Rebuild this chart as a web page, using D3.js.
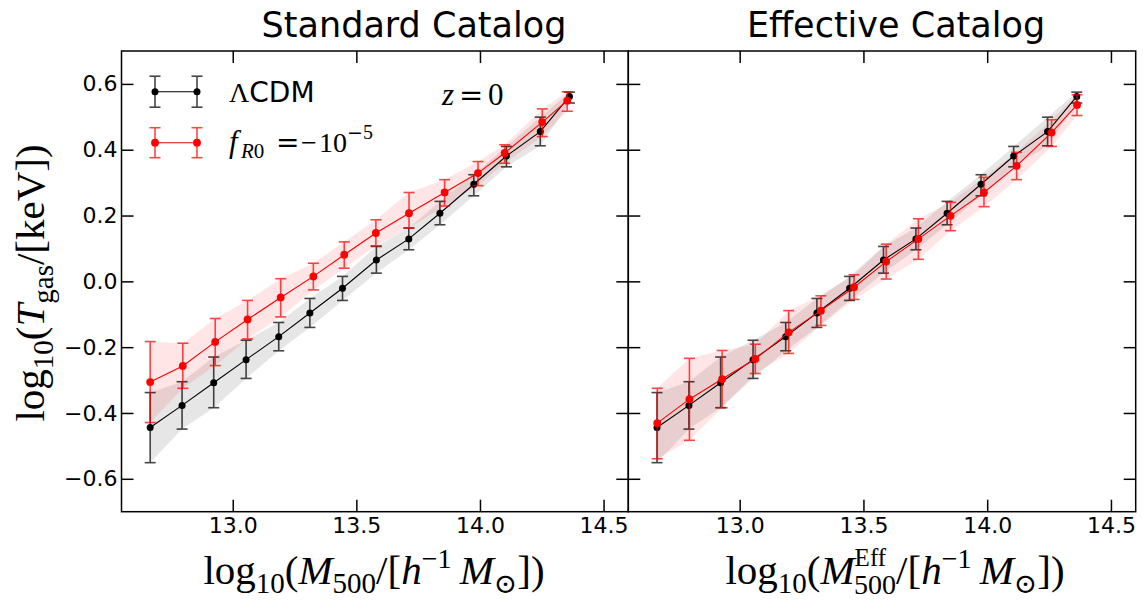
<!DOCTYPE html>
<html lang="en">
<head>
  <meta charset="UTF-8">
  <title>Tgas - M500 relation</title>
  <script src="https://d3js.org/d3.v7.min.js"></script>
  <style>
    body { margin: 0; background: #fff; }
    svg { display: block; }
    .tick text { font-family: "DejaVu Sans", sans-serif; font-size: 22px; fill: #000; }
    .math { font-family: "Liberation Serif", "DejaVu Serif", serif; }
    .op { font-family: "DejaVu Serif", serif; }
  </style>
</head>
<body>
  <div id="chart"></div>

  <script>
  // ΛCDM (same in both panels)
  const lcdmMass = [12.666, 12.795, 12.923, 13.054, 13.186, 13.312, 13.444, 13.581, 13.712, 13.838, 13.975, 14.107, 14.244, 14.362];
  const lcdmT    = [-0.444, -0.377, -0.308, -0.238, -0.168, -0.096, -0.021, 0.065, 0.129, 0.207, 0.295, 0.381, 0.455, 0.562];
  const lcdmLo   = [-0.551, -0.449, -0.384, -0.295, -0.211, -0.140, -0.058, 0.025, 0.096, 0.172, 0.260, 0.348, 0.412, 0.542];
  const lcdmHi   = [-0.338, -0.305, -0.230, -0.179, -0.125, -0.052, 0.015, 0.106, 0.162, 0.243, 0.324, 0.410, 0.499, 0.575];

  // f(R) standard catalog
  const fStdMass = [12.666, 12.798, 12.929, 13.060, 13.194, 13.326, 13.451, 13.579, 13.713, 13.857, 13.992, 14.100, 14.252, 14.353];
  const fStdT    = [-0.306, -0.257, -0.184, -0.116, -0.049, 0.015, 0.081, 0.147, 0.207, 0.270, 0.329, 0.390, 0.484, 0.549];
  const fStdLo   = [-0.429, -0.325, -0.256, -0.175, -0.108, -0.026, 0.040, 0.108, 0.162, 0.229, 0.291, 0.359, 0.440, 0.517];
  const fStdHi   = [-0.183, -0.188, -0.113, -0.058, 0.008, 0.055, 0.120, 0.187, 0.270, 0.309, 0.364, 0.415, 0.524, 0.576];

  // f(R) effective catalog
  const fEffMass = [12.667, 12.797, 12.929, 13.063, 13.198, 13.328, 13.462, 13.592, 13.722, 13.852, 13.987, 14.119, 14.260, 14.363];
  const fEffT    = [-0.431, -0.358, -0.297, -0.236, -0.155, -0.089, -0.018, 0.060, 0.129, 0.199, 0.270, 0.351, 0.452, 0.536];
  const fEffLo   = [-0.539, -0.483, -0.384, -0.280, -0.219, -0.134, -0.055, 0.007, 0.067, 0.154, 0.227, 0.309, 0.410, 0.504];
  const fEffHi   = [-0.325, -0.234, -0.210, -0.191, -0.089, -0.044, 0.020, 0.113, 0.190, 0.240, 0.316, 0.392, 0.491, 0.567];

  const xTicks = [13.0, 13.5, 14.0, 14.5];
  const yTicks = [-0.6, -0.4, -0.2, 0.0, 0.2, 0.4, 0.6];
  const titles = ["Standard Catalog", "Effective Catalog"];

  const W = 1143, H = 601;
  const yTop = 51, yBottom = 511.7;
  const panels = [
    { x0: 121.5, x1: 628.3, fMass: fStdMass, fT: fStdT, fLo: fStdLo, fHi: fStdHi, title: titles[0], titleX: 414 },
    { x0: 628.3, x1: 1135.7, fMass: fEffMass, fT: fEffT, fLo: fEffLo, fHi: fEffHi, title: titles[1], titleX: 896 }
  ];

  const svg = d3.select("#chart").append("svg")
    .attr("width", W).attr("height", H);
  svg.append("rect").attr("width", W).attr("height", H).attr("fill", "#fff");

  const y = d3.scaleLinear().domain([-0.7, 0.7]).range([yBottom, yTop]);

  function zipSeries(mass, t, lo, hi) {
    return mass.map((m, i) => ({ m: m, t: t[i], lo: lo[i], hi: hi[i] }));
  }

  function drawSeries(g, x, data, color, bandColor, bandOpacity, r) {
    g.append("path")
      .datum(data)
      .attr("fill", bandColor)
      .attr("fill-opacity", bandOpacity)
      .attr("d", d3.area().x(d => x(d.m)).y0(d => y(d.lo)).y1(d => y(d.hi)));
    return function drawMarks() {
      g.append("path")
        .datum(data)
        .attr("fill", "none")
        .attr("stroke", color)
        .attr("stroke-width", 1.1)
        .attr("d", d3.line().x(d => x(d.m)).y(d => y(d.t)));
      const eb = g.append("g").attr("stroke", color).attr("stroke-width", 1.6).attr("opacity", 0.72);
      eb.selectAll(".v").data(data).enter().append("line")
        .attr("x1", d => x(d.m)).attr("x2", d => x(d.m))
        .attr("y1", d => y(d.lo)).attr("y2", d => y(d.hi));
      eb.selectAll(".cl").data(data).enter().append("line")
        .attr("x1", d => x(d.m) - 5.5).attr("x2", d => x(d.m) + 5.5)
        .attr("y1", d => y(d.lo)).attr("y2", d => y(d.lo));
      eb.selectAll(".ch").data(data).enter().append("line")
        .attr("x1", d => x(d.m) - 5.5).attr("x2", d => x(d.m) + 5.5)
        .attr("y1", d => y(d.hi)).attr("y2", d => y(d.hi));
      g.selectAll(null).data(data).enter().append("circle")
        .attr("cx", d => x(d.m)).attr("cy", d => y(d.t))
        .attr("r", r).attr("fill", color);
    };
  }

  panels.forEach((p, pi) => {
    const x = d3.scaleLinear().domain([12.55, 14.6]).range([p.x0, p.x1]);
    const g = svg.append("g");

    const lcdm = zipSeries(lcdmMass, lcdmT, lcdmLo, lcdmHi);
    const fr = zipSeries(p.fMass, p.fT, p.fLo, p.fHi);
    const marksK = drawSeries(g, x, lcdm, "#000", "#808080", 0.2, 3.5);
    const marksR = drawSeries(g, x, fr, "#ff0000", "#ff0000", 0.1, 3.9);
    marksK();
    marksR();

    // axes: ticks point inward on all four sides
    const fmt = d3.format(".1f");
    g.append("g").attr("transform", `translate(0,${yBottom})`)
      .call(d3.axisBottom(x).tickValues(xTicks).tickFormat(fmt).tickSizeInner(-12).tickSizeOuter(0).tickPadding(6));
    g.append("g").attr("transform", `translate(0,${yTop})`)
      .call(d3.axisTop(x).tickValues(xTicks).tickFormat("").tickSizeInner(-12).tickSizeOuter(0));
    g.append("g").attr("transform", `translate(${p.x0},0)`)
      .call(d3.axisLeft(y).tickValues(yTicks).tickFormat(pi === 0 ? fmt : "").tickSizeInner(-12).tickSizeOuter(0).tickPadding(4));
    g.append("g").attr("transform", `translate(${p.x1},0)`)
      .call(d3.axisRight(y).tickValues(yTicks).tickFormat("").tickSizeInner(-12).tickSizeOuter(0));
    g.selectAll(".domain").remove();
    g.selectAll(".tick line").attr("stroke", "#000").attr("stroke-width", 1.5);

    g.append("rect")
      .attr("x", p.x0).attr("y", yTop)
      .attr("width", p.x1 - p.x0).attr("height", yBottom - yTop)
      .attr("fill", "none").attr("stroke", "#000").attr("stroke-width", 1.5);

    svg.append("text")
      .attr("x", p.titleX).attr("y", 37)
      .attr("text-anchor", "middle")
      .attr("font-family", "DejaVu Sans, sans-serif")
      .attr("font-size", 35)
      .text(p.title);
  });

  // y axis label
  const yl = svg.append("text").attr("class", "math")
    .attr("transform", "translate(44,283) rotate(-90)")
    .attr("text-anchor", "middle").attr("font-size", 41);
  yl.append("tspan").text("log");
  yl.append("tspan").attr("font-size", 29).attr("dy", 9).text("10");
  yl.append("tspan").attr("dy", -9).text("(");
  yl.append("tspan").attr("font-style", "italic").text("T");
  yl.append("tspan").attr("font-size", 29).attr("dy", 9).text("gas");
  yl.append("tspan").attr("dy", -9).text("/[keV])");

  // x axis labels
  function xLabel(cx, eff) {
    const t = svg.append("text").attr("class", "math")
      .attr("x", cx).attr("y", 584)
      .attr("text-anchor", "middle").attr("font-size", 41);
    t.append("tspan").text("log");
    t.append("tspan").attr("font-size", 29).attr("dy", 9).text("10");
    t.append("tspan").attr("dy", -9).text("(");
    t.append("tspan").attr("font-style", "italic").text("M");
    if (eff) {
      t.append("tspan").attr("font-size", 25).attr("dy", -18).text("Eff");
      t.append("tspan").attr("font-size", 28).attr("dx", -32).attr("dy", 28).text("500");
      t.append("tspan").attr("dy", -10).text("/[");
    } else {
      t.append("tspan").attr("font-size", 29).attr("dy", 9).text("500");
      t.append("tspan").attr("dy", -9).text("/[");
    }
    t.append("tspan").attr("font-style", "italic").text("h");
    t.append("tspan").attr("font-size", 28).attr("dy", -16).text("\u22121");
    t.append("tspan").attr("dy", 16).attr("font-style", "italic").text("\u2009M");
    t.append("tspan").attr("font-size", 28).attr("dy", 9).text("\u2299");
    t.append("tspan").attr("dy", -9).text("])");
  }
  xLabel(374, false);
  xLabel(895, true);

  // legend
  const legX = [155, 197];
  const legend = [
    { y: 91.7, color: "#000", r: 3.5, err: 15.5 },
    { y: 142.7, color: "#ff0000", r: 3.9, err: 15 }
  ];
  legend.forEach(l => {
    const g = svg.append("g");
    g.append("line").attr("x1", legX[0]).attr("x2", legX[1]).attr("y1", l.y).attr("y2", l.y)
      .attr("stroke", l.color).attr("stroke-width", 1.1);
    const eb = g.append("g").attr("stroke", l.color).attr("stroke-width", 1.6).attr("opacity", 0.72);
    legX.forEach(lx => {
      eb.append("line").attr("x1", lx).attr("x2", lx).attr("y1", l.y - l.err).attr("y2", l.y + l.err);
      eb.append("line").attr("x1", lx - 5.5).attr("x2", lx + 5.5).attr("y1", l.y - l.err).attr("y2", l.y - l.err);
      eb.append("line").attr("x1", lx - 5.5).attr("x2", lx + 5.5).attr("y1", l.y + l.err).attr("y2", l.y + l.err);
      g.append("circle").attr("cx", lx).attr("cy", l.y).attr("r", l.r).attr("fill", l.color);
    });
  });

  const t1 = svg.append("text").attr("x", 229).attr("y", 101.5).attr("font-size", 28);
  t1.append("tspan").attr("class", "math").text("\u039B");
  t1.append("tspan").attr("font-family", "DejaVu Sans, sans-serif").text("CDM");

  // f_R0 = -10^-5
  const t2 = svg.append("text").attr("class", "math").attr("x", 229).attr("y", 152).attr("font-size", 28);
  t2.append("tspan").attr("font-style", "italic").attr("font-size", 31).text("f");
  t2.append("tspan").attr("x", 241).attr("font-size", 21).attr("dy", 6).attr("font-style", "italic").text("R");
  t2.append("tspan").attr("font-size", 21).text("0");
  t2.append("tspan").attr("class", "op").attr("x", 276).attr("dy", -6).text("=");
  t2.append("tspan").attr("x", 301).text("\u2212");
  t2.append("tspan").attr("x", 319).text("10");
  t2.append("tspan").attr("class", "op").attr("x", 347).attr("font-size", 19).attr("dy", -13).text("\u2212");
  t2.append("tspan").attr("font-size", 20).text("5");

  const t3 = svg.append("text").attr("class", "math").attr("x", 442).attr("y", 105).attr("font-size", 31);
  t3.append("tspan").attr("font-style", "italic").text("z");
  t3.append("tspan").attr("class", "op").attr("x", 459).attr("font-size", 29).text("=");
  t3.append("tspan").attr("x", 488).text("0");
  </script>
</body>
</html>
